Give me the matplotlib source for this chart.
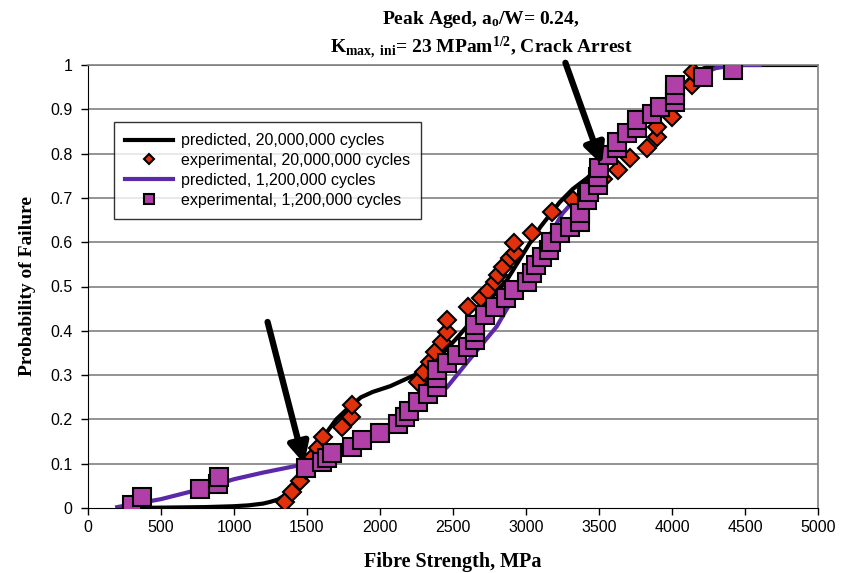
import matplotlib
matplotlib.use("Agg")
import matplotlib.pyplot as plt

plt.rcParams["mathtext.fontset"] = "custom"
plt.rcParams["mathtext.rm"] = "Liberation Serif:bold"
plt.rcParams["mathtext.bf"] = "Liberation Serif:bold"
plt.rcParams["mathtext.it"] = "Liberation Serif:bold"

# predicted curves
pred20_x = [300, 800, 1000, 1100, 1200, 1250, 1300, 1340, 1380, 1420, 1460, 1500, 1600, 1700,
            1780, 1870, 1950, 2070, 2150, 2270, 2390, 2530, 2700, 2870, 3030, 3100, 3230, 3320,
            3420, 3500, 3600, 3700, 3800, 3900, 4000, 4100, 4150, 4200, 4250, 4300, 5000]
pred20_p = [0.0, 0.002, 0.004, 0.006, 0.01, 0.014, 0.019, 0.027, 0.04, 0.06, 0.08, 0.1, 0.155,
            0.2, 0.225, 0.25, 0.262, 0.275, 0.287, 0.305, 0.335, 0.385, 0.45, 0.515, 0.6, 0.635,
            0.69, 0.72, 0.745, 0.77, 0.8, 0.835, 0.87, 0.9, 0.93, 0.962, 0.978, 0.99, 0.997, 1.0, 1.0]

pred12_x = [200, 500, 800, 1000, 1200, 1500, 1800, 2000, 2200, 2350, 2460, 2600, 2700, 2800,
            2870, 2950, 3000, 3100, 3250, 3400, 3500, 3600, 3700, 3800, 3900, 4000, 4100, 4200,
            4300, 4400, 4500, 4600]
pred12_p = [0.002, 0.02, 0.045, 0.065, 0.08, 0.1, 0.14, 0.17, 0.21, 0.245, 0.273, 0.33, 0.37,
            0.41, 0.45, 0.49, 0.52, 0.58, 0.665, 0.72, 0.76, 0.8, 0.835, 0.87, 0.9, 0.93, 0.96,
            0.98, 0.993, 0.998, 1.0, 1.0]

# experimental, 20,000,000 cycles
exp20_x = [1350, 1400, 1450, 1490, 1530, 1575, 1610, 1740, 1800, 1810, 2260, 2300, 2340, 2380,
           2425, 2460, 2460, 2600, 2690, 2740, 2790, 2810, 2840, 2890, 2925, 2920, 3040, 3180,
           3320, 3420, 3530, 3630, 3710, 3830, 3900, 3900, 4000, 4140, 4145]
exp20_p = [0.014, 0.036, 0.06, 0.085, 0.11, 0.135, 0.16, 0.183, 0.205, 0.232, 0.285, 0.307, 0.33,
           0.352, 0.375, 0.397, 0.424, 0.454, 0.474, 0.49, 0.51, 0.526, 0.544, 0.564, 0.575, 0.598,
           0.62, 0.668, 0.695, 0.72, 0.742, 0.763, 0.79, 0.813, 0.837, 0.86, 0.882, 0.955, 0.985]

# experimental, 1,200,000 cycles
exp12_x = [300, 370, 770, 890, 900, 1490, 1600, 1640, 1670, 1810, 1880, 2000, 2120, 2170, 2200,
           2260, 2330, 2390, 2390, 2390, 2460, 2530, 2600, 2650, 2650, 2650, 2720, 2790, 2860, 2920,
           3010, 3040, 3070, 3110, 3160, 3170, 3230, 3300, 3370, 3370, 3420, 3430, 3490, 3490, 3500,
           3560, 3620, 3620, 3690, 3760, 3760, 3860, 3920, 4020, 4020, 4020, 4210, 4420]
exp12_p = [0.007, 0.025, 0.042, 0.055, 0.07, 0.09, 0.104, 0.112, 0.124, 0.138, 0.153, 0.17, 0.19,
           0.205, 0.22, 0.24, 0.257, 0.274, 0.293, 0.312, 0.327, 0.345, 0.364, 0.379, 0.397, 0.413,
           0.435, 0.454, 0.474, 0.492, 0.51, 0.53, 0.549, 0.567, 0.582, 0.6, 0.62, 0.634, 0.646,
           0.666, 0.695, 0.713, 0.729, 0.747, 0.768, 0.797, 0.812, 0.826, 0.846, 0.858, 0.876, 0.89,
           0.905, 0.916, 0.932, 0.955, 0.973, 0.988]

x_ticks = [0, 500, 1000, 1500, 2000, 2500, 3000, 3500, 4000, 4500, 5000]
y_ticks = [0, 0.1, 0.2, 0.3, 0.4, 0.5, 0.6, 0.7, 0.8, 0.9, 1]
y_labels = ["0", "0.1", "0.2", "0.3", "0.4", "0.5", "0.6", "0.7", "0.8", "0.9", "1"]

# arrows (tail -> head) in data units
arrow1 = ((1230, 0.42), (1480, 0.10))
arrow2 = ((3270, 1.005), (3520, 0.775))

serif = "Liberation Serif"
sans = "Liberation Sans"
red = "#E0300C"
mag = "#B040A8"
violet = "#5A28A8"

fig = plt.figure(figsize=(8.51, 5.73), dpi=100)
ax = fig.add_axes([88 / 851, 1 - 508 / 573, 730 / 851, 443 / 573])

for y in y_ticks[1:]:
    ax.axhline(y, color="#808080", lw=1.2, zorder=0)

ax.plot(pred20_x, pred20_p, color="black", lw=3, zorder=2,
        label="predicted, 20,000,000 cycles")
ax.plot(exp20_x, exp20_p, linestyle="none", marker="D", ms=9, mfc=red, mec="black", mew=1.5,
        zorder=3, label="experimental, 20,000,000 cycles")
ax.plot(pred12_x, pred12_p, color=violet, lw=3, zorder=2,
        label="predicted, 1,200,000 cycles")
ax.plot(exp12_x, exp12_p, linestyle="none", marker="s", ms=13, mfc=mag, mec="black", mew=1.5,
        zorder=4, label="experimental, 1,200,000 cycles")

for (tail, head) in (arrow1, arrow2):
    ax.annotate("", xy=head, xytext=tail, annotation_clip=False, zorder=6,
                arrowprops=dict(arrowstyle="-|>,head_length=1.2,head_width=0.6",
                                color="black", lw=4.5, shrinkA=0, shrinkB=0))

ax.set_xlim(0, 5000)
ax.set_ylim(0, 1)
ax.set_xticks(x_ticks)
ax.set_yticks(y_ticks)
ax.set_yticklabels(y_labels)
ax.tick_params(axis="x", direction="out", length=5, width=1, labelsize=11.5, pad=4)
ax.tick_params(axis="y", direction="out", length=5, width=1, labelsize=11.5, pad=6)
for lab in ax.get_xticklabels() + ax.get_yticklabels():
    lab.set_family(sans)

for side in ("top", "right"):
    ax.spines[side].set_color("#808080")
    ax.spines[side].set_linewidth(1.2)
ax.spines["left"].set_color("black")
ax.spines["bottom"].set_color("black")

ax.set_xlabel("Fibre Strength, MPa", fontfamily=serif, fontweight="bold", fontsize=14.5, labelpad=12)
ax.set_ylabel("Probability of Failure", fontfamily=serif, fontweight="bold", fontsize=14, labelpad=10)

leg = ax.legend(loc="upper left", bbox_to_anchor=(26 / 730, 386 / 443), borderaxespad=0,
                frameon=True, fancybox=False, edgecolor="black",
                prop={"family": sans, "size": 11.5}, handlelength=3.0,
                handletextpad=0.5, labelspacing=0.3, borderpad=0.7, markerscale=0.55)
leg.get_frame().set_linewidth(1.0)

fig.text(481 / 851, 1 - 20 / 573, r"Peak Aged, a$_\mathrm{o}$/W= 0.24,", ha="center", va="center",
         fontfamily=serif, fontweight="bold", fontsize=14)
fig.text(481 / 851, 1 - 48 / 573, r"K$_\mathrm{max,\ ini}$= 23 MPam$^\mathrm{1/2}$, Crack Arrest",
         ha="center", va="center", fontfamily=serif, fontweight="bold", fontsize=14)

fig.savefig("out.png", dpi=100)
